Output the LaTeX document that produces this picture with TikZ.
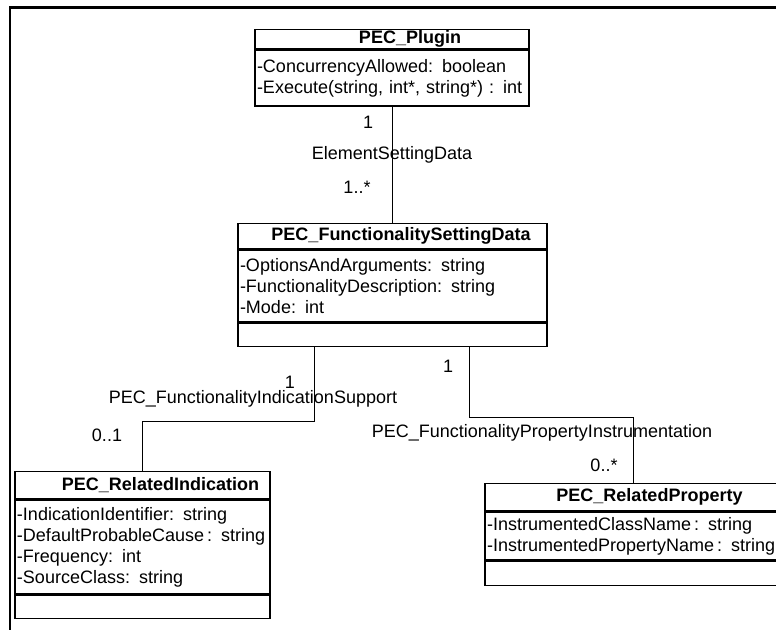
\documentclass[tikz,border=0pt]{standalone}
\usepackage{fontspec}
\setmainfont{Liberation Sans}
\usetikzlibrary{positioning}

\begin{document}
\begin{tikzpicture}[x=0.5pt,y=-0.5pt,font=\fontsize{9}{10.5}\selectfont]
    \tikzstyle{cname}=[draw, line width=0.7pt, font=\fontsize{9}{10.5}\selectfont\bfseries, inner sep=0pt, anchor=north]
    \tikzstyle{cattr}=[draw, line width=0.7pt, align=left, inner xsep=1pt, inner ysep=0pt]
    \tikzstyle{cops}=[draw, line width=0.7pt, inner sep=0pt]
    \tikzstyle{assoc}=[line width=0.5pt]
    \tikzstyle{mult}=[inner sep=0pt]

    \useasboundingbox (0,0) rectangle (776,629);
    \clip (0,0) rectangle (776,629);

    % Frame
    \draw[line width=1.1pt] (9,7.5) -- (790,7.5);
    \draw[line width=0.7pt] (10,7.5) -- (10,640);

    % Plugin
    \node[cname,minimum width=137pt,minimum height=9.5pt] (plugin) at (392,29) {\hspace*{18pt}PEC\_Plugin};
    \node[cattr,text width=135pt,minimum height=28pt,below=0pt of plugin] (pluginattr) {-ConcurrencyAllowed: boolean\\-Execute(string, int*, string*) : int};

    % Setting data
    \node[cname,minimum width=154.5pt,minimum height=12.5pt] (fsd) at (392.5,223) {\hspace*{8.5pt}PEC\_FunctionalitySettingData};
    \node[cattr,text width=152.5pt,minimum height=36pt,below=0pt of fsd] (fsdattr) {-OptionsAndArguments: string\\-FunctionalityDescription: string\\-Mode: int};
    \node[cops,minimum width=154.5pt,minimum height=11.5pt,below=0pt of fsdattr] (fsdops) {};

    % Related indication
    \node[cname,minimum width=127.5pt,minimum height=13.5pt] (relind) at (142.5,471) {\hspace*{18pt}PEC\_RelatedIndication};
    \node[cattr,text width=125.5pt,minimum height=47pt,below=0pt of relind] (relindattr) {-IndicationIdentifier: string\\-DefaultProbableCause\,: string\\-Frequency: int\\-SourceClass: string};
    \node[cops,minimum width=127.5pt,minimum height=11.5pt,below=0pt of relindattr] (relindops) {};

    % Related property
    \node[cname,minimum width=148pt,minimum height=13.5pt] (relprop) at (633,483) {\hspace*{16.5pt}PEC\_RelatedProperty};
    \node[cattr,text width=146pt,minimum height=24pt,below=0pt of relprop] (relpropattr) {-InstrumentedClassName\,: string\\-InstrumentedPropertyName\,: string};
    \node[cops,minimum width=148pt,minimum height=12pt,below=0pt of relpropattr] (relpropops) {};

    % Associations
    \coordinate (fis) at ([xshift=38.5pt]fsdops.south west);
    \coordinate (fpi) at ([xshift=116pt]fsdops.south west);
    \draw[assoc] (pluginattr.south) -- (pluginattr.south |- fsd.north);
    \draw[assoc] (fis) -- ++(0,74) -| (relind.north);
    \draw[assoc] (fpi) -- ++(0,70) -| (relprop.north);

    % Labels
    \node[mult] (esdone) at (368,122) {1};
    \node[mult] (esd) at (392,155) {ElementSettingData};
    \node[mult] (esdmany) at (357,187) {1..*};
    \node[mult] (fisone) at (290,382) {1};
    \node[mult] (fislabel) at (253,399) {PEC\_FunctionalityIndicationSupport};
    \node[mult] (fisopt) at (107,435) {0..1};
    \node[mult] (fpione) at (448,366) {1};
    \node[mult] (fpilabel) at (542,433) {PEC\_FunctionalityPropertyInstrumentation};
    \node[mult] (fpimany) at (604,465) {0..*};
\end{tikzpicture}
\end{document}
